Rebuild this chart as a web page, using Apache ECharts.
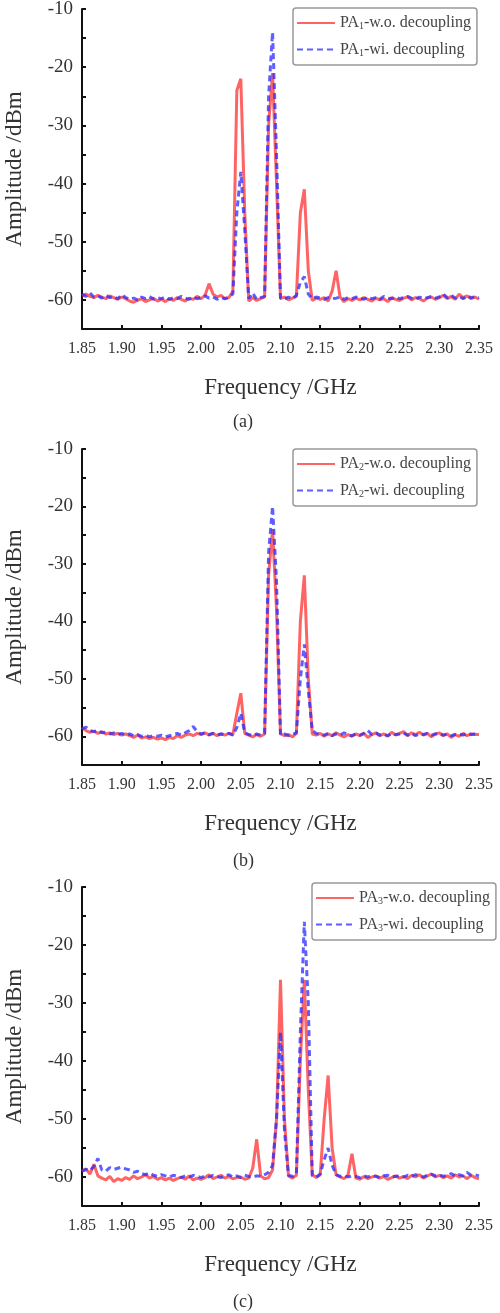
<!DOCTYPE html>
<html>
<head>
<meta charset="utf-8">
<script src="https://cdn.jsdelivr.net/npm/echarts@6/dist/echarts.min.js"></script>
<style>
  html, body { margin: 0; padding: 0; background: #fff; }
  #chart { width: 500px; height: 1313px; }
</style>
</head>
<body>
<div id="chart"></div>
<script>
'use strict'

// frequency grid, GHz
var freq = [
  1.85,1.855,1.86,1.865,1.87,1.875,1.88,1.885,1.89,1.895,
  1.90,1.905,1.91,1.915,1.92,1.925,1.93,1.935,1.94,1.945,
  1.95,1.955,1.96,1.965,1.97,1.975,1.98,1.985,1.99,1.995,
  2.00,2.005,2.01,2.015,2.02,2.025,2.03,2.035,2.04,2.045,
  2.05,2.055,2.06,2.065,2.07,2.075,2.08,2.085,2.09,2.095,
  2.10,2.105,2.11,2.115,2.12,2.125,2.13,2.135,2.14,2.145,
  2.15,2.155,2.16,2.165,2.17,2.175,2.18,2.185,2.19,2.195,
  2.20,2.205,2.21,2.215,2.22,2.225,2.23,2.235,2.24,2.245,
  2.25,2.255,2.26,2.265,2.27,2.275,2.28,2.285,2.29,2.295,
  2.30,2.305,2.31,2.315,2.32,2.325,2.33,2.335,2.34,2.345,
  2.35
];

// (a) PA1
var aWo = [
  -59.3,-59.0,-59.4,-59.6,-59.2,-59.5,-59.8,-59.3,-59.6,-59.9,
  -59.5,-59.8,-60.2,-60.4,-60.1,-59.8,-60.3,-60.0,-59.7,-60.2,
  -59.9,-60.3,-59.8,-60.1,-59.6,-59.9,-60.2,-59.7,-59.9,-59.4,
  -59.8,-59.2,-57.2,-59.0,-59.5,-59.2,-59.8,-59.6,-58.5,-24,
  -22,-45,-60.2,-59.6,-60.1,-59.8,-59.5,-30,-21,-40,
  -59.8,-59.5,-60.0,-59.7,-59.4,-45,-41,-55,-60.1,-59.7,
  -59.9,-59.6,-60.2,-58.5,-55,-59.5,-60.3,-59.8,-60.1,-59.7,
  -60.0,-59.6,-59.9,-60.2,-59.7,-60.0,-59.8,-60.3,-59.6,-59.9,
  -60.1,-59.7,-59.5,-60.0,-59.6,-59.8,-60.2,-59.7,-59.5,-59.9,
  -59.6,-59.2,-59.8,-59.4,-59.9,-59.0,-59.6,-59.3,-59.8,-59.5,
  -59.9
];
var aWi = [
  -59.0,-59.4,-58.8,-59.5,-59.3,-59.7,-59.2,-59.6,-59.4,-59.8,
  -59.1,-59.6,-59.9,-59.7,-60.0,-59.5,-59.8,-59.4,-59.9,-59.6,
  -59.8,-59.5,-59.9,-59.6,-59.8,-59.4,-59.7,-59.9,-59.5,-59.8,
  -59.6,-59.3,-59.7,-59.5,-59.9,-59.6,-59.8,-59.5,-59.0,-45,
  -38,-48,-59.8,-58.8,-59.9,-59.6,-59.4,-25,-14,-35,
  -59.7,-59.9,-59.5,-59.8,-59.2,-57,-56,-59.0,-59.8,-59.5,
  -59.7,-59.9,-59.6,-59.8,-59.7,-59.5,-59.9,-59.6,-59.8,-59.5,
  -59.7,-59.9,-59.5,-59.8,-59.6,-59.9,-59.4,-59.7,-59.8,-59.5,
  -59.8,-59.6,-59.4,-59.7,-59.9,-59.5,-59.8,-59.6,-59.4,-59.7,
  -59.5,-59.0,-59.6,-59.2,-59.7,-59.4,-59.8,-59.3,-59.6,-59.5,
  -59.6
];

// (b) PA2
var bWo = [
  -58.5,-59.0,-59.3,-59.1,-59.5,-59.2,-59.6,-59.4,-59.7,-59.5,
  -59.8,-59.6,-59.9,-60.2,-59.8,-60.3,-60.1,-60.4,-60.2,-60.5,
  -60.3,-60.6,-60.2,-60.4,-59.9,-60.2,-59.8,-59.6,-59.9,-59.5,
  -59.7,-59.4,-59.8,-59.5,-59.9,-59.6,-59.8,-59.5,-59.7,-56,
  -52.5,-59.5,-59.8,-60.1,-59.7,-60.0,-59.6,-32,-24,-38,
  -59.6,-59.9,-59.7,-60.1,-59.5,-40,-32,-50,-59.6,-59.8,
  -59.5,-60.0,-59.6,-59.9,-59.4,-59.8,-60.1,-59.7,-60.0,-59.6,
  -59.9,-59.5,-60.2,-59.7,-59.4,-59.9,-59.6,-60.0,-59.3,-59.8,
  -59.5,-59.2,-59.9,-59.4,-59.7,-59.3,-59.8,-59.5,-60.1,-59.6,
  -59.4,-59.9,-59.6,-60.2,-59.7,-60.0,-59.5,-59.9,-59.6,-59.7,
  -59.7
];
var bWi = [
  -58.7,-58.4,-59.0,-59.2,-59.0,-59.4,-59.3,-59.6,-59.4,-59.7,
  -59.5,-59.8,-59.6,-59.9,-59.7,-60.0,-59.8,-60.1,-59.9,-60.0,
  -59.8,-60.1,-59.9,-59.7,-59.5,-59.8,-59.4,-59.0,-58.3,-59.2,
  -59.6,-59.4,-59.7,-59.5,-59.8,-59.6,-59.7,-59.5,-59.8,-58.5,
  -56,-59.4,-59.7,-59.9,-59.6,-59.8,-59.5,-28,-20,-33,
  -59.8,-59.6,-59.9,-59.7,-59.4,-50,-44,-52,-59.0,-59.5,
  -59.7,-59.8,-59.5,-59.9,-59.6,-59.8,-59.4,-59.7,-59.9,-59.6,
  -59.8,-59.5,-59.0,-59.7,-59.4,-59.8,-59.6,-59.9,-59.5,-59.7,
  -59.6,-59.4,-59.8,-59.5,-59.9,-59.6,-59.7,-59.5,-59.8,-59.6,
  -59.5,-59.8,-59.6,-59.9,-59.7,-59.6,-59.8,-59.5,-59.7,-59.6,
  -59.6
];

// (c) PA3
var cWo = [
  -59.0,-58.6,-59.5,-57.8,-59.8,-60.2,-60.5,-59.9,-60.8,-60.3,
  -60.6,-60.1,-60.4,-59.8,-60.3,-60.0,-59.6,-60.2,-59.9,-60.4,
  -60.1,-60.5,-60.2,-60.6,-60.3,-60.0,-60.4,-59.8,-60.5,-60.2,
  -60.4,-60.1,-59.6,-60.3,-60.0,-59.7,-60.2,-59.9,-60.3,-60.1,
  -60.0,-60.4,-60.2,-58.5,-53.5,-59.8,-60.3,-60.1,-58.8,-50,
  -26,-50,-59.8,-60.2,-59.7,-40,-26,-45,-59.6,-60.1,
  -59.6,-50,-42.5,-55,-59.6,-60.0,-60.3,-59.7,-56,-60.2,
  -60.4,-59.9,-60.3,-60.0,-59.8,-60.2,-59.9,-60.4,-60.1,-59.8,
  -60.2,-59.9,-60.3,-59.7,-60.0,-59.6,-60.2,-59.8,-59.5,-60.0,
  -59.7,-60.1,-59.8,-60.2,-59.6,-60.0,-59.8,-60.3,-59.7,-60.1,
  -60.3
];
var cWi = [
  -59.0,-58.7,-58.9,-58.2,-56.8,-58.8,-59.0,-58.4,-58.7,-58.5,
  -58.3,-58.6,-58.8,-59.2,-59.0,-59.4,-59.6,-59.3,-59.7,-59.9,
  -59.6,-59.8,-60.0,-59.7,-59.9,-60.1,-59.8,-60.0,-59.7,-59.9,
  -60.1,-59.8,-60.0,-59.7,-59.9,-60.1,-59.8,-59.6,-60.0,-59.8,
  -60.1,-59.7,-59.9,-60.0,-59.8,-59.9,-59.6,-59.2,-58.0,-50,
  -35,-52,-59.7,-59.9,-59.5,-35,-16,-30,-59.8,-60.0,
  -59.5,-57,-55,-58,-59.6,-59.9,-59.7,-60.0,-59.8,-59.9,
  -60.1,-59.8,-60.0,-59.7,-59.9,-60.1,-59.8,-59.7,-60.0,-59.9,
  -59.8,-60.0,-59.7,-59.9,-59.6,-59.8,-60.0,-59.7,-59.5,-59.8,
  -59.6,-59.9,-59.7,-59.4,-59.9,-59.6,-59.8,-59.2,-59.7,-59.6,
  -59.8
];

var panels = [
  { sub: '1', wo: aWo, wi: aWi, top: 9,   height: 320, caption: '(a)', capY: 423,  leg: [293, 8] },
  { sub: '2', wo: bWo, wi: bWi, top: 449, height: 316, caption: '(b)', capY: 862,  leg: [293, 449] },
  { sub: '3', wo: cWo, wi: cWi, top: 887, height: 319, caption: '(c)', capY: 1303, leg: [312, 883] }
];

var serif = 'Liberation Serif';
var grids = [], xAxes = [], yAxes = [], series = [], legends = [], graphics = [];

panels.forEach(function (p, i) {
  var woName = 'PA' + p.sub + '-w.o. decoupling';
  var wiName = 'PA' + p.sub + '-wi. decoupling';

  grids.push({ left: 82, width: 397, top: p.top, height: p.height, outerBoundsMode: 'none' });

  xAxes.push({
    gridIndex: i,
    type: 'category',
    data: freq,
    boundaryGap: false,
    name: 'Frequency /GHz',
    nameLocation: 'middle',
    nameGap: 47,
    nameTextStyle: { fontFamily: serif, fontSize: 23, color: '#333' },
    axisLine: { lineStyle: { color: '#111', width: 2 } },
    axisTick: { inside: true, interval: 9, length: 4, lineStyle: { color: '#111', width: 2 } },
    axisLabel: {
      interval: 9,
      margin: 12,
      fontFamily: serif,
      fontSize: 16,
      color: '#333',
      formatter: function (v) { return Number(v).toFixed(2); }
    },
    splitLine: { show: false }
  });

  yAxes.push({
    gridIndex: i,
    type: 'value',
    min: -65,
    max: -10,
    interval: 5,
    name: 'Amplitude /dBm',
    nameLocation: 'middle',
    nameGap: 56,
    nameTextStyle: { fontFamily: serif, fontSize: 23, color: '#333' },
    axisLine: { show: true, lineStyle: { color: '#111', width: 2 } },
    axisTick: { show: true, inside: true, length: 4, lineStyle: { color: '#111', width: 2 } },
    axisLabel: {
      margin: 9,
      fontFamily: serif,
      fontSize: 19,
      color: '#333',
      formatter: function (v) { return (v % 10 === 0 && v > -65) ? String(v) : ''; }
    },
    splitLine: { show: false }
  });

  series.push({
    name: woName,
    type: 'line',
    xAxisIndex: i,
    yAxisIndex: i,
    data: p.wo,
    symbol: 'none',
    lineStyle: { color: '#ff3030', width: 3, opacity: 0.75 },
    itemStyle: { color: '#ff3030' }
  });
  series.push({
    name: wiName,
    type: 'line',
    xAxisIndex: i,
    yAxisIndex: i,
    data: p.wi,
    symbol: 'none',
    lineStyle: { color: '#2a2aff', width: 3, type: [6, 4], opacity: 0.75 },
    itemStyle: { color: '#2a2aff' }
  });

  legends.push({
    data: [woName, wiName],
    orient: 'vertical',
    left: p.leg[0],
    top: p.leg[1],
    padding: [7, 6, 7, 3],
    itemGap: 10,
    itemWidth: 38,
    itemHeight: 14,
    itemStyle: { opacity: 0 },
    backgroundColor: '#fff',
    borderColor: '#999',
    borderWidth: 1.5,
    borderRadius: 3,
    textStyle: {
      fontFamily: serif,
      fontSize: 16,
      color: '#444',
      rich: { s: { fontFamily: serif, fontSize: 10, color: '#444', verticalAlign: 'bottom', padding: [7, 0, 0, 0] } }
    },
    formatter: function (name) {
      return name.replace('PA' + p.sub, 'PA{s|' + p.sub + '}');
    }
  });

  graphics.push({
    type: 'text',
    left: 233,
    top: p.capY - 10,
    style: { text: p.caption, font: '18px "Liberation Serif"', fill: '#333' }
  });
});

var chart = echarts.init(document.getElementById('chart'));
chart.setOption({
  animation: false,
  grid: grids,
  xAxis: xAxes,
  yAxis: yAxes,
  legend: legends,
  series: series,
  graphic: graphics
});
window.addEventListener('resize', function () { chart.resize(); });
</script>
</body>
</html>
